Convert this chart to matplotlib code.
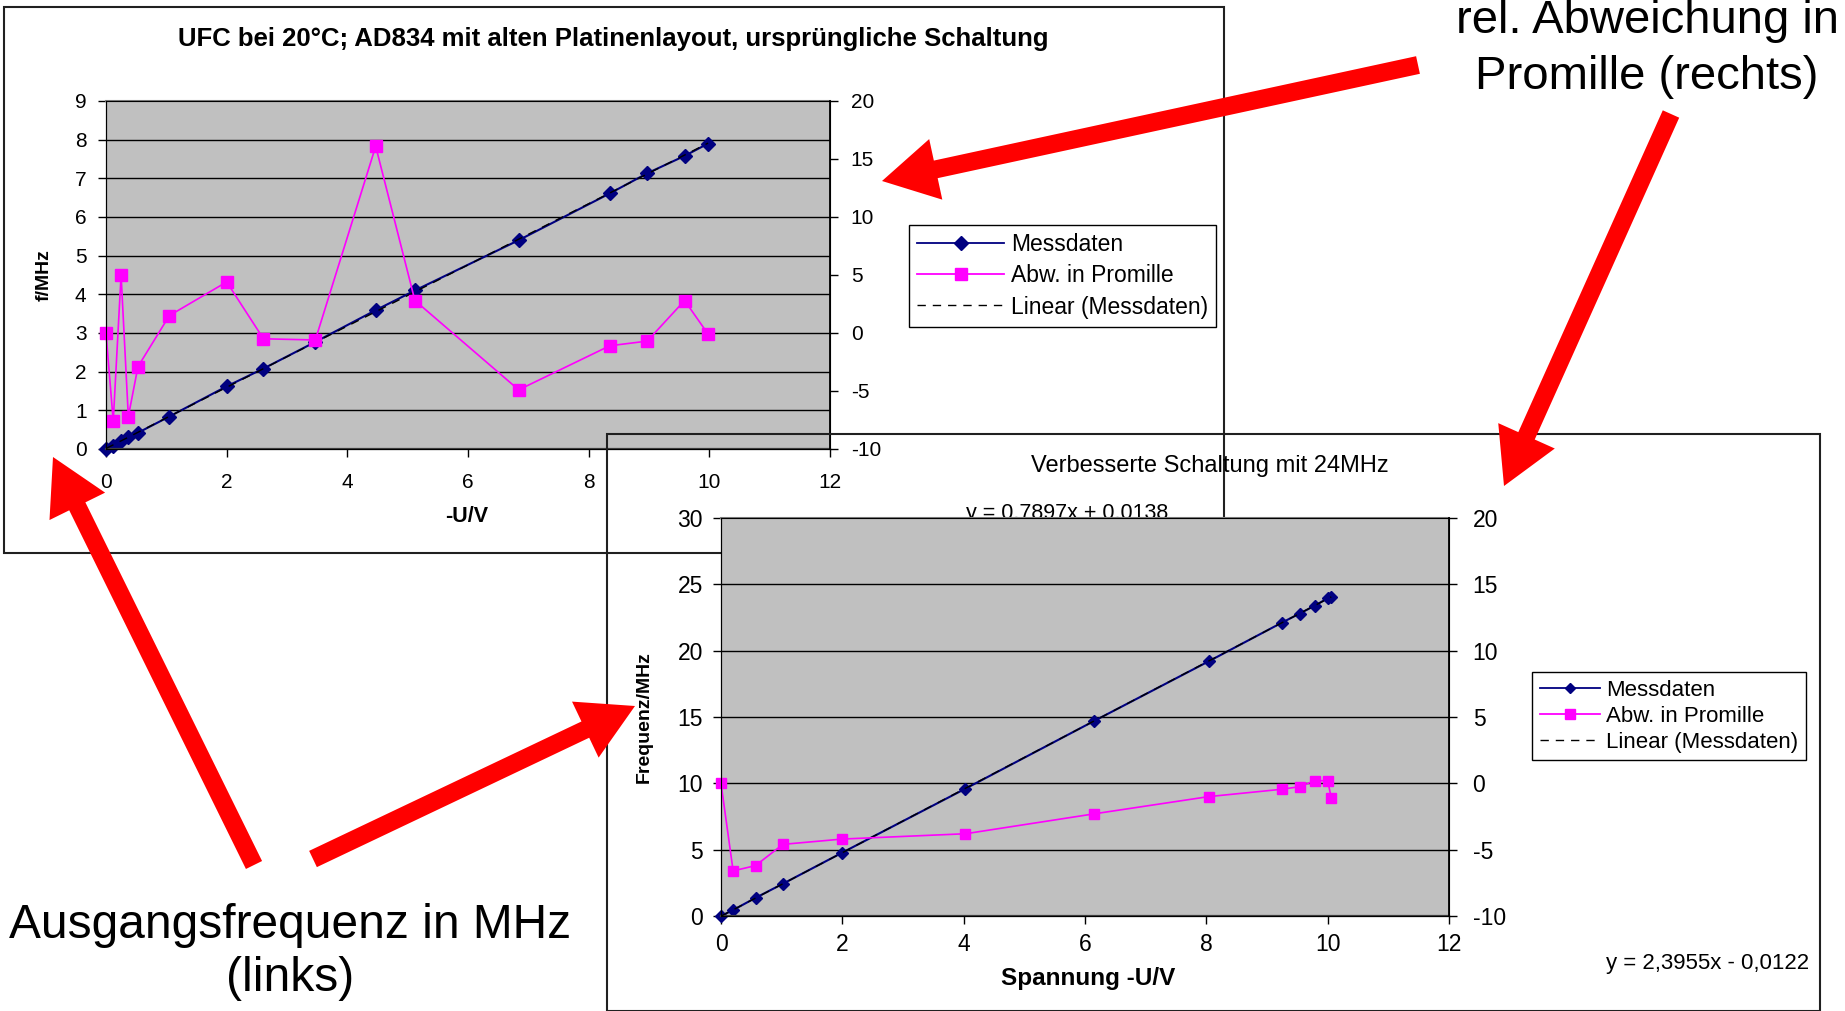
import numpy as np
import matplotlib
matplotlib.use("Agg")
import matplotlib.pyplot as plt
from matplotlib.patches import Rectangle, FancyArrow
from matplotlib.lines import Line2D

plt.rcParams['font.family'] = ['Liberation Sans', 'DejaVu Sans']
plt.rcParams['axes.unicode_minus'] = False

# old board layout, 20 degC: voltage -U/V, frequency f/MHz, deviation in per mille
u_alt = [0, 0.12, 0.25, 0.37, 0.53, 1.05, 2.00, 2.61, 3.47, 4.47, 5.12, 6.84, 8.35, 8.97, 9.59, 9.98]
f_alt = [0, 0.09, 0.20, 0.30, 0.42, 0.84, 1.62, 2.08, 2.77, 3.59, 4.10, 5.40, 6.61, 7.13, 7.58, 7.90]
abw_alt = [0, -7.6, 5.0, -7.2, -2.9, 1.5, 4.4, -0.5, -0.6, 16.1, 2.8, -4.9, -1.1, -0.7, 2.8, -0.1]

# improved circuit, 24 MHz
u_neu = [0, 0.20, 0.57, 1.02, 2.00, 4.03, 6.15, 8.04, 9.24, 9.54, 9.79, 10.00, 10.06]
f_neu = [0, 0.45, 1.37, 2.43, 4.78, 9.60, 14.70, 19.20, 22.10, 22.80, 23.40, 23.95, 24.05]
abw_neu = [0, -6.6, -6.2, -4.6, -4.2, -3.8, -2.3, -1.0, -0.45, -0.25, 0.2, 0.2, -1.1]

x_ticks = [0, 2, 4, 6, 8, 10, 12]
promille_ticks = [-10, -5, 0, 5, 10, 15, 20]

labels = ['Messdaten', 'Abw. in Promille', 'Linear (Messdaten)']

# red annotation arrows (tail, tip) in pixels
arrows = [((1418, 65), (882, 181)),
          ((1671, 114), (1504, 486)),
          ((254, 865), (53, 457)),
          ((313, 859), (635, 706))]

W, H = 1845, 1011
fig = plt.figure(figsize=(W / 100, H / 100), dpi=100)

DASH = (0, (6, 5))


def rect(x0, y0, x1, y1):
    """pixel box -> figure fraction [l, b, w, h]"""
    return [x0 / W, 1 - y1 / H, (x1 - x0) / W, (y1 - y0) / H]


def pt(x, y):
    return (x / W, 1 - y / H)


def chart(box, u, f, abw, ymax, ystep, z, fs, ms_d, ms_s, pads):
    ax = fig.add_axes(box, zorder=z)
    ax.set_facecolor('#c0c0c0')
    ax.set_xlim(0, 12)
    ax.set_ylim(0, ymax)
    ax.set_xticks(x_ticks)
    ax.set_yticks(np.arange(0, ymax + 1, ystep))
    for g in np.arange(ystep, ymax, ystep):
        ax.axhline(g, color='black', lw=1, zorder=0.5)
    ax.plot(u, f, color='#000080', lw=1.5, marker='D', ms=ms_d, zorder=2, clip_on=False)
    coef = np.polyfit(u, f, 1)
    xs = np.array([0, max(u)])
    ax.plot(xs, np.polyval(coef, xs), color='black', lw=1, ls=DASH, zorder=3)
    ax.tick_params(axis='both', direction='out', length=6, width=1, labelsize=fs, color='black')
    ax.tick_params(axis='y', pad=pads[0])
    ax.tick_params(axis='x', pad=pads[1])
    ax.spines['left'].set_color('black')
    ax.spines['bottom'].set_color('#404040')
    ax.spines['bottom'].set_linewidth(1.6)
    ax.spines['top'].set_color('#808080')
    ax.spines['top'].set_linewidth(1.5)

    ax2 = ax.twinx()
    ax2.set_zorder(z + 0.1)
    ax2.set_ylim(-10, 20)
    ax2.set_yticks(promille_ticks)
    ax2.plot(u, abw, color='#ff00ff', lw=1.2, marker='s', ms=ms_s, zorder=2, clip_on=False)
    ax2.tick_params(axis='y', direction='out', length=6, width=1, labelsize=fs, pad=pads[2])
    ax2.spines['right'].set_color('black')
    ax2.spines['right'].set_linewidth(1.3)
    return ax, ax2


def legend(ax, x0, y0, ms_d, ms_s, fs, hl, ls):
    handles = [Line2D([], [], color='#000080', lw=1.3, marker='D', ms=ms_d),
               Line2D([], [], color='#ff00ff', lw=1.3, marker='s', ms=ms_s),
               Line2D([], [], color='black', lw=1, ls=DASH)]
    leg = ax.legend(handles, labels, loc='upper left', bbox_to_anchor=pt(x0, y0),
                    bbox_transform=fig.transFigure, borderaxespad=0, fancybox=False,
                    framealpha=1, edgecolor='black', fontsize=fs, handlelength=hl,
                    handletextpad=0.3, labelspacing=ls, borderpad=0.35)
    leg.get_frame().set_linewidth(1)
    return leg


# top chart: frame below the lower chart's plot area
fig.add_artist(Rectangle(pt(4, 553), 1220 / W, 546 / H, transform=fig.transFigure,
                         fill=False, ec='#202020', lw=1.5, zorder=0.5))
ax_a, ax_a2 = chart(rect(106, 101, 830, 449), u_alt, f_alt, abw_alt, 9, 1, 1,
                    15, 7.5, 8, (8, 11, 9))
fig.text(*pt(613, 39), 'UFC bei 20°C; AD834 mit alten Platinenlayout, ursprüngliche Schaltung',
         ha='center', va='center', fontsize=18.5, fontweight='bold', zorder=1)
fig.text(*pt(44, 275), 'f/MHz', rotation=90, ha='center', va='center',
         fontsize=14, fontweight='bold', zorder=1)
fig.text(*pt(467, 516), '-U/V', ha='center', va='center', fontsize=15.5,
         fontweight='bold', zorder=1)
legend(ax_a2, 909, 225, 7, 8.5, 16.5, 3.8, 0.36)

# bottom chart: frame above the upper chart
fig.add_artist(Rectangle(pt(607, 1011), 1213 / W, 577 / H, transform=fig.transFigure,
                         fill=False, ec='#202020', lw=1.5, zorder=2))
fig.text(*pt(1067, 519), 'y = 0.7897x + 0.0138', ha='center', va='baseline',
         fontsize=15.5, zorder=2.5)
ax_n, ax_n2 = chart(rect(721, 518, 1449, 916), u_neu, f_neu, abw_neu, 30, 5, 3,
                    16.5, 6, 6.5, (7, 6, 11))
fig.text(*pt(1210, 466), 'Verbesserte Schaltung mit 24MHz', ha='center', va='center',
         fontsize=17, zorder=3)
fig.text(*pt(644, 717), 'Frequenz/MHz', rotation=90, ha='center', va='center',
         fontsize=14, fontweight='bold', zorder=3)
fig.text(*pt(1088, 978), 'Spannung -U/V', ha='center', va='center', fontsize=17.5,
         fontweight='bold', zorder=3)
fig.text(*pt(1708, 963), 'y = 2,3955x - 0,0122', ha='center', va='center',
         fontsize=16, zorder=3)
legend(ax_n2, 1532, 672, 5.5, 7, 16, 2.7, 0.22)

# overlay with arrows and big captions, 1 unit = 1 pixel
ov = fig.add_axes([0, 0, 1, 1], zorder=10)
ov.set_xlim(0, W)
ov.set_ylim(H, 0)
ov.axis('off')
for (x0, y0), (x1, y1) in arrows:
    ov.add_patch(FancyArrow(x0, y0, x1 - x0, y1 - y0, width=18, head_width=62,
                            head_length=55, length_includes_head=True,
                            color='#ff0000', lw=0))
ov.text(1647, 33, 'rel. Abweichung in', ha='center', va='baseline', fontsize=34)
ov.text(1647, 89, 'Promille (rechts)', ha='center', va='baseline', fontsize=34)
ov.text(290, 938, 'Ausgangsfrequenz in MHz', ha='center', va='baseline', fontsize=34.5)
ov.text(290, 991, '(links)', ha='center', va='baseline', fontsize=34.5)

fig.savefig('out.png', dpi=100)
